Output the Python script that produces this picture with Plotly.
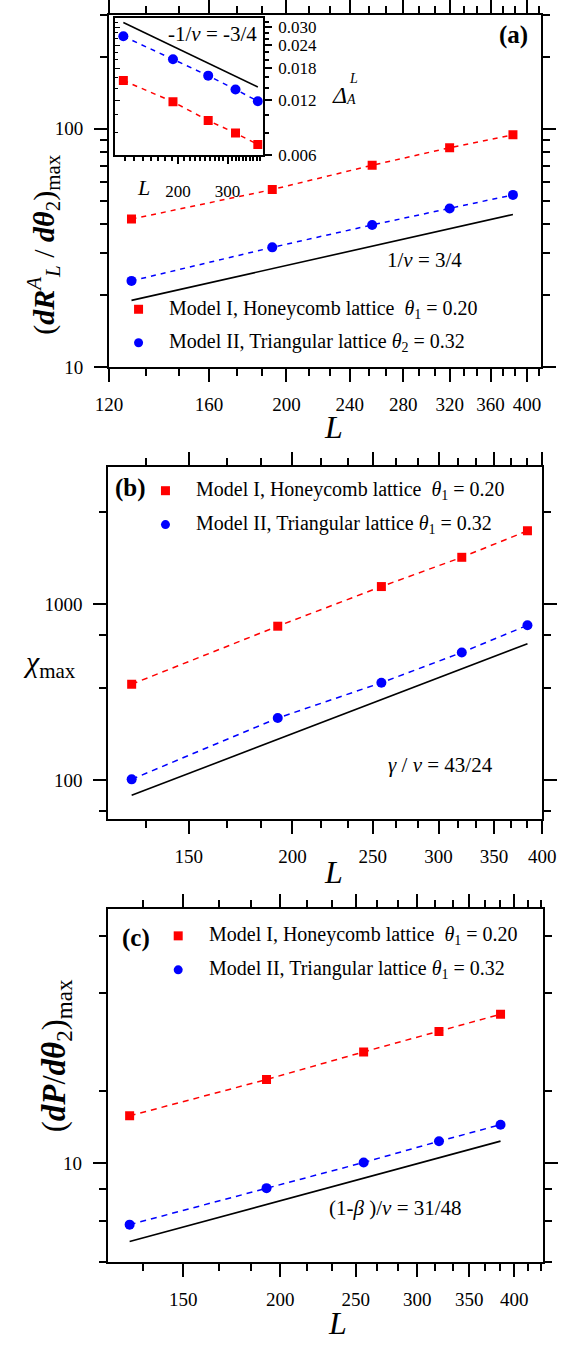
import plotly.graph_objects as go
import math

W, H = 569, 1349
def px(x): return x / W
def py(y): return 1 - y / H

FONT = "Liberation Serif"
RED = "#ff0000"
BLUE = "#0000ff"

# ---------------- data ----------------
L = [128, 192, 256, 320, 384]
guide_L = [128, 384]

# panel (a): (dR_L^A/dtheta_2)_max
a_model1 = [41.8, 55.6, 70.3, 83.3, 94.4]
a_model2 = [23.0, 31.8, 39.5, 46.3, 52.8]
a_guide = [19.05, 43.7]

# inset of (a): Delta_A^L
in_model1 = [0.01538, 0.01177, 0.0093, 0.00794, 0.00688]
in_model2 = [0.02683, 0.0201, 0.01636, 0.01375, 0.01186]
in_guide = [0.0319, 0.01417]

# panel (b): chi_max
b_model1 = [350, 747, 1254, 1838, 2600]
b_model2 = [101, 225, 357, 530, 756]
b_guide = [82, 594]

# panel (c): (dP/dtheta_2)_max
c_model1 = [14.0, 18.1, 22.0, 25.4, 28.7]
c_model2 = [6.49, 8.40, 10.07, 11.7, 13.15]
c_guide = [5.76, 11.71]

# ticks
a_xticks = [120, 160, 200, 240, 280, 320, 360, 400]
a_xminor = [120 + k * 40 / 3 for k in range(1, 23) if k % 3]
bc_xticks = [150, 200, 250, 300, 350, 400]
bc_xminor = [k * 50 / 3 for k in range(8, 27) if k % 3]
a_yticks = [10, 100]
a_yminor = [20, 30, 40, 50, 60, 70, 80, 90, 200, 300]
b_yticks = [100, 1000]
b_yminor = [200 / 3, 1000 / 3, 2000 / 3, 10000 / 3]
c_yticks = [10]
c_yminor = [5, 20 / 3, 25 / 3, 50 / 3, 100 / 3, 50]
in_xticks = [200, 300]
in_xminor = [v for v in range(130, 400, 10) if v not in (200, 300)]
in_yticks = [0.006, 0.012, 0.018, 0.024, 0.030]
in_ylabels = ["0.006", "0.012", "0.018", "0.024", "0.030"]
in_yminor = [v / 1000 for v in range(8, 34, 2) if v % 6]

fig = go.Figure()

def add_panel(xa, ya, m1, m2, guide, dash="5px,5px"):
    fig.add_trace(go.Scatter(x=L, y=m1, mode="lines", line=dict(color=RED, width=1.5, dash=dash),
                             xaxis=xa, yaxis=ya, showlegend=False))
    fig.add_trace(go.Scatter(x=L, y=m2, mode="lines", line=dict(color=BLUE, width=1.5, dash=dash),
                             xaxis=xa, yaxis=ya, showlegend=False))
    fig.add_trace(go.Scatter(x=guide_L, y=guide, mode="lines", line=dict(color="black", width=1.6),
                             xaxis=xa, yaxis=ya, showlegend=False))
    fig.add_trace(go.Scatter(x=L, y=m1, mode="markers", marker=dict(symbol="square", size=9, color=RED),
                             xaxis=xa, yaxis=ya, showlegend=False))
    fig.add_trace(go.Scatter(x=L, y=m2, mode="markers", marker=dict(symbol="circle", size=10, color=BLUE),
                             xaxis=xa, yaxis=ya, showlegend=False))

add_panel("x", "y", a_model1, a_model2, a_guide)
add_panel("x2", "y2", b_model1, b_model2, b_guide, dash="6px,5px")
add_panel("x3", "y3", c_model1, c_model2, c_guide, dash="6px,5px")
add_panel("x4", "y4", in_model1, in_model2, in_guide)
# empty trace to realise the inset's inner left tick axis
fig.add_trace(go.Scatter(x=[None], y=[None], xaxis="x4", yaxis="y5", showlegend=False))

def xaxis(domain, rng, ticks, minor, anchor, size=19, standoff=6, tl=13, mtl=7):
    return dict(type="log", domain=[px(domain[0]), px(domain[1])],
                range=[math.log10(rng[0]), math.log10(rng[1])], anchor=anchor,
                tickmode="array", tickvals=ticks, ticktext=[str(t) for t in ticks],
                ticks="outside", ticklen=tl, tickwidth=1.5, tickcolor="black",
                minor=dict(tickvals=minor, ticks="outside", ticklen=mtl, tickwidth=1.5, tickcolor="black", showgrid=False),
                showline=True, linewidth=2, linecolor="black", mirror="allticks",
                showgrid=False, zeroline=False, ticklabelstandoff=standoff,
                tickfont=dict(family=FONT, size=size, color="black"))

def yaxis(domain, rng, ticks, ticktext, minor, anchor, size=19, standoff=7, side="left",
          tl=13, mtl=7, mirror="allticks"):
    return dict(type="log", domain=[py(domain[1]), py(domain[0])],
                range=[math.log10(rng[0]), math.log10(rng[1])], anchor=anchor, side=side,
                tickmode="array", tickvals=ticks, ticktext=ticktext,
                ticks="outside", ticklen=tl, tickwidth=1.5, tickcolor="black",
                minor=dict(tickvals=minor, ticks="outside", ticklen=mtl, tickwidth=1.5, tickcolor="black", showgrid=False),
                showline=True, linewidth=2, linecolor="black", mirror=mirror,
                showgrid=False, zeroline=False, ticklabelstandoff=standoff,
                tickfont=dict(family=FONT, size=size, color="black"))

inset_y_dom = (8.3, 147.7)
inset_y_rng = (0.006, 0.0337)

fig.update_layout(
    width=W, height=H, margin=dict(l=0, r=0, t=0, b=0),
    paper_bgcolor="white", plot_bgcolor="white", showlegend=False,
    xaxis=xaxis((100, 554), (120, 416), a_xticks, a_xminor, "y"),
    yaxis=yaxis((5, 362.7), (10, 300.7), a_yticks, ["10", "100"], a_yminor, "x"),
    xaxis2=xaxis((99.3, 555.5), (120, 400), bc_xticks, bc_xminor, "y2"),
    yaxis2=yaxis((464, 822.3), (10 ** 1.7765, 10 ** 3.778), b_yticks, ["100", "1000"], b_yminor, "x2"),
    xaxis3=xaxis((98.7, 556), (120, 435), bc_xticks, bc_xminor, "y3"),
    yaxis3=yaxis((913, 1272), (10 ** 0.697, 10 ** 1.7816), c_yticks, ["10"], c_yminor, "x3"),
    xaxis4=dict(xaxis((106.7, 261.7), (120, 400), in_xticks, in_xminor, "y4", size=17, standoff=12, tl=7, mtl=4),
                mirror=True),
    yaxis4=yaxis(inset_y_dom, inset_y_rng, in_yticks, in_ylabels,
                 in_yminor, "x4", size=17, standoff=3, side="right", tl=7, mtl=4, mirror=True),
    yaxis5=dict(type="log", overlaying="y4", anchor="x4", side="left",
                range=[math.log10(inset_y_rng[0]), math.log10(inset_y_rng[1])],
                tickmode="array", tickvals=in_yticks, showticklabels=False,
                ticks="inside", ticklen=5, tickwidth=1.2, tickcolor="black",
                minor=dict(tickvals=in_yminor, ticks="inside", ticklen=3, tickwidth=1.2, tickcolor="black", showgrid=False),
                showline=False, showgrid=False, zeroline=False),
)

ann = []
def text(x, y, s, size=20, xanchor="left", yanchor="middle", angle=0):
    ann.append(dict(x=px(x), y=py(y), xref="paper", yref="paper", text=s, showarrow=False,
                    xanchor=xanchor, yanchor=yanchor, textangle=angle,
                    font=dict(family=FONT, size=size, color="black")))

NB = "\u00a0"
leg1 = "Model I, Honeycomb lattice" + NB + NB + "<i>θ</i><sub>1</sub> = 0.20"
leg2_a = "Model II, Triangular lattice <i>θ</i><sub>2</sub> = 0.32"
leg2_bc = "Model II, Triangular lattice <i>θ</i><sub>1</sub> = 0.32"

shapes = []
def sym(x, y, kind, color, s=9):
    shapes.append(dict(type="rect" if kind == "sq" else "circle", xref="paper", yref="paper",
                       xsizemode="pixel", ysizemode="pixel", xanchor=px(x), yanchor=py(y),
                       x0=-s / 2, x1=s / 2, y0=-s / 2, y1=s / 2, fillcolor=color, line=dict(width=0)))

# panel (a)
text(525, 25, "<b>(a)</b>", size=25, xanchor="center")
text(432, 254, "1/<i>ν</i> = 3/4", size=21, xanchor="center")
sym(131, 304, "sq", RED); text(160.5, 304, leg1)
sym(131, 338, "ci", BLUE); text(160.5, 338, leg2_a)
text(31, 238, "(<b><i>dR</i></b><sup><i>A</i></sup><sub><i>L</i></sub> / <b><i>dθ</i></b><sub>2</sub>)<sub>max</sub>",
     size=30, xanchor="center", angle=-90)
text(336, 424, "<i>L</i>", size=32, xanchor="center")
# inset
text(258, 24, "-1/<i>ν</i> = -3/4", size=21, xanchor="right")
text(136, 180, "<i>L</i>", size=22, xanchor="center")
text(342, 86, "<i>Δ</i>", size=24, xanchor="center")
text(357, 70, "<i>L</i>", size=14, xanchor="center")
text(354, 91, "<i>A</i>", size=14, xanchor="center")

# panel (b)
text(122.5, 486, "<b>(b)</b>", size=25, xanchor="center")
sym(159.3, 488.3, "sq", RED); text(189.6, 488.3, leg1)
sym(159.3, 522.7, "ci", BLUE); text(189.6, 522.7, leg2_bc)
text(448.5, 767, "<i>γ</i> / <i>ν</i> = 43/24", size=21, xanchor="center")
text(37, 664, "<i>χ</i><sub>max</sub>", size=30, xanchor="center")
text(336, 876, "<i>L</i>", size=32, xanchor="center")

# panel (c)
text(128, 943, "<b>(c)</b>", size=25, xanchor="center")
sym(172.7, 940.5, "sq", RED); text(203.5, 940.5, leg1)
sym(172.7, 975, "ci", BLUE); text(203.5, 975, leg2_bc)
text(401, 1217, "(1-<i>β</i> )/<i>ν</i> = 31/48", size=21, xanchor="center")
text(45, 1062, "(<b><i>dP</i></b>/<b><i>dθ</i></b><sub>2</sub>)<sub>max</sub>", size=33, xanchor="center", angle=-90)
text(340, 1334, "<i>L</i>", size=32, xanchor="center")

fig.update_layout(annotations=ann, shapes=shapes)
fig.write_html("out.html")
